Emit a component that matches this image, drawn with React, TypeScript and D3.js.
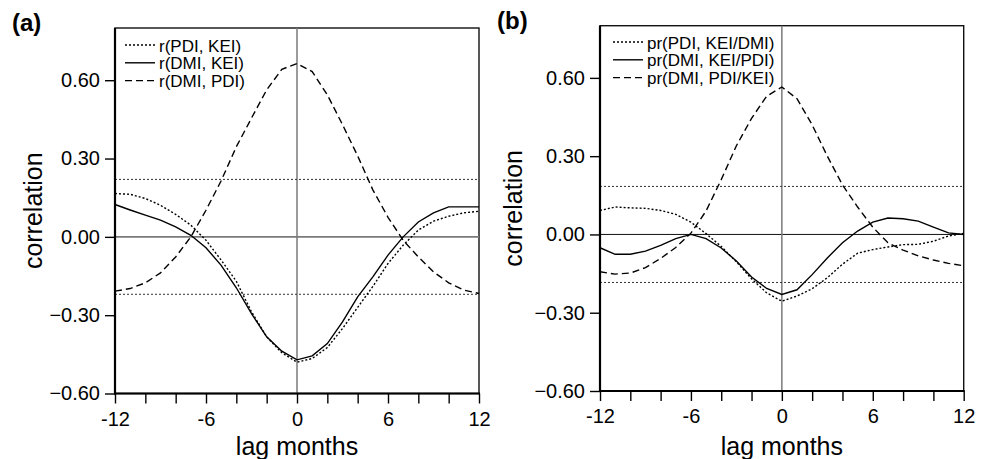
import React, { useEffect, useRef } from 'react';
import * as d3 from 'd3';

// lag in months
const lags = [-12, -11, -10, -9, -8, -7, -6, -5, -4, -3, -2, -1, 0, 1, 2, 3, 4, 5, 6, 7, 8, 9, 10, 11, 12];

// panel (a): simple correlations
const rPdiKei = [0.166, 0.163, 0.147, 0.121, 0.086, 0.045, -0.013, -0.089, -0.17, -0.287, -0.383, -0.444, -0.48, -0.466, -0.424, -0.351, -0.27, -0.19, -0.102, -0.032, 0.026, 0.06, 0.079, 0.092, 0.098];
const rDmiKei = [0.124, 0.103, 0.083, 0.064, 0.038, 0.006, -0.042, -0.109, -0.195, -0.294, -0.383, -0.438, -0.471, -0.456, -0.409, -0.326, -0.23, -0.153, -0.07, 0.0, 0.057, 0.092, 0.115, 0.115, 0.115];
const rDmiPdi = [-0.208, -0.198, -0.176, -0.138, -0.077, 0.0, 0.102, 0.215, 0.345, 0.455, 0.563, 0.642, 0.664, 0.633, 0.544, 0.43, 0.31, 0.18, 0.075, -0.013, -0.077, -0.134, -0.176, -0.204, -0.217];

// panel (b): partial correlations
const prPdiKei = [0.092, 0.105, 0.102, 0.1, 0.092, 0.077, 0.047, 0.003, -0.046, -0.105, -0.17, -0.224, -0.256, -0.236, -0.208, -0.166, -0.114, -0.072, -0.058, -0.048, -0.039, -0.038, -0.026, -0.006, 0.004];
const prDmiKei = [-0.051, -0.076, -0.076, -0.064, -0.042, -0.016, 0.0, -0.016, -0.052, -0.102, -0.163, -0.207, -0.23, -0.212, -0.154, -0.09, -0.032, 0.013, 0.047, 0.063, 0.06, 0.051, 0.028, 0.006, 0.0];
const prDmiPdi = [-0.143, -0.152, -0.148, -0.127, -0.092, -0.05, 0.005, 0.09, 0.21, 0.34, 0.445, 0.53, 0.565, 0.52, 0.42, 0.3, 0.19, 0.105, 0.028, -0.032, -0.06, -0.082, -0.098, -0.111, -0.12];

const legendA = ['r(PDI, KEI)', 'r(DMI, KEI)', 'r(DMI, PDI)'];
const legendB = ['pr(PDI, KEI/DMI)', 'pr(DMI, KEI/PDI)', 'pr(DMI, PDI/KEI)'];
const sigA = 0.22;
const sigB = 0.184;

const yTicks = [-0.6, -0.3, 0, 0.3, 0.6];
const xTicks = [-12, -10, -8, -6, -4, -2, 0, 2, 4, 6, 8, 10, 12];
const xLabels = [-12, -6, 0, 6, 12];

const dashes = ['2,2', null, '7,4'];
const FONT = '"Liberation Sans", Arial, Helvetica, sans-serif';

const App = () => {
  const ref = useRef(null);

  useEffect(() => {
    const svg = d3.select(ref.current);
    svg.selectAll('*').remove();

    const panels = [
      {
        tag: '(a)', tagX: 12, tagY: 31,
        left: 115, right: 479, top: 28, bottom: 393.5,
        series: [rPdiKei, rDmiKei, rDmiPdi], legend: legendA, sig: sigA,
        legX: 125, legY: 45, zeroColor: '#7a7a7a', zeroWidth: 1.8,
        ylabX: 41.5,
      },
      {
        tag: '(b)', tagX: 497, tagY: 29,
        left: 600, right: 963.7, top: 25.7, bottom: 391,
        series: [prPdiKei, prDmiKei, prDmiPdi], legend: legendB, sig: sigB,
        legX: 613, legY: 42, zeroColor: '#111', zeroWidth: 1,
        ylabX: 522,
      },
    ];

    panels.forEach(p => {
      const x = d3.scaleLinear().domain([-12, 12]).range([p.left, p.right]);
      const y = d3.scaleLinear().domain([-0.6, 0.8]).range([p.bottom, p.top]);
      const g = svg.append('g');

      // frame
      g.append('rect')
        .attr('x', p.left).attr('y', p.top)
        .attr('width', p.right - p.left).attr('height', p.bottom - p.top)
        .attr('fill', 'none').attr('stroke', '#111').attr('stroke-width', 1.4);

      // zero lines
      g.append('line')
        .attr('x1', p.left).attr('x2', p.right)
        .attr('y1', y(0)).attr('y2', y(0))
        .attr('stroke', p.zeroColor).attr('stroke-width', p.zeroWidth);
      g.append('line')
        .attr('x1', x(0)).attr('x2', x(0))
        .attr('y1', p.top).attr('y2', p.bottom)
        .attr('stroke', '#7a7a7a').attr('stroke-width', 1.5);

      // significance levels
      [p.sig, -p.sig].forEach(s => {
        g.append('line')
          .attr('x1', p.left).attr('x2', p.right)
          .attr('y1', y(s)).attr('y2', y(s))
          .attr('stroke', '#333').attr('stroke-width', 1)
          .attr('stroke-dasharray', '2,2');
      });

      // curves
      const line = d3.line<number>()
        .x((d, i) => x(lags[i]))
        .y(d => y(d));
      p.series.forEach((s, k) => {
        g.append('path')
          .attr('d', line(s))
          .attr('fill', 'none')
          .attr('stroke', '#000')
          .attr('stroke-width', 1.4)
          .attr('stroke-dasharray', dashes[k]);
      });

      // axes
      const yAxis = g.append('g')
        .attr('transform', `translate(${p.left},0)`)
        .call(d3.axisLeft(y).tickValues(yTicks).tickFormat(d3.format('.2f'))
          .tickSize(10).tickSizeOuter(0).tickPadding(5));
      const xAxis = g.append('g')
        .attr('transform', `translate(0,${p.bottom})`)
        .call(d3.axisBottom(x).tickValues(xTicks)
          .tickFormat(d => (xLabels.includes(d as number) ? String(d) : ''))
          .tickSize(10).tickSizeOuter(0).tickPadding(8));
      [yAxis, xAxis].forEach(a => {
        a.select('.domain').attr('stroke', '#000').attr('stroke-width', 2.2);
        a.selectAll('.tick line').attr('stroke', '#000').attr('stroke-width', 1.4);
        a.selectAll('text').attr('fill', '#000')
          .style('font-family', FONT).style('font-size', '20px');
      });
      yAxis.select('.domain').attr('d', `M0,${p.top}V${p.bottom + 1}`);
      xAxis.select('.domain').attr('d', `M${p.left - 1},0H${p.right + 1}`);

      // legend
      p.legend.forEach((label, k) => {
        const ly = p.legY + k * 17.8;
        g.append('line')
          .attr('x1', p.legX).attr('x2', p.legX + 30)
          .attr('y1', ly).attr('y2', ly)
          .attr('stroke', '#000').attr('stroke-width', 1.4)
          .attr('stroke-dasharray', dashes[k]);
        g.append('text')
          .attr('x', p.legX + 34).attr('y', ly + 6.5)
          .style('font-family', FONT).style('font-size', '17px')
          .text(label);
      });

      // axis titles
      g.append('text')
        .attr('x', (p.left + p.right) / 2).attr('y', 455)
        .attr('text-anchor', 'middle')
        .style('font-family', FONT).style('font-size', '25px')
        .text('lag months');
      g.append('text')
        .attr('transform', `translate(${p.ylabX},${(p.top + p.bottom) / 2}) rotate(-90)`)
        .attr('text-anchor', 'middle')
        .style('font-family', FONT).style('font-size', '25px')
        .text('correlation');

      // panel tag
      g.append('text')
        .attr('x', p.tagX).attr('y', p.tagY)
        .style('font-family', FONT).style('font-size', '24px').style('font-weight', 'bold')
        .text(p.tag);
    });
  }, []);

  return (
    <svg ref={ref} width={986} height={459}
      style={{ position: 'absolute', left: 0, top: 0, background: '#fff' }} />
  );
};

export default App;
